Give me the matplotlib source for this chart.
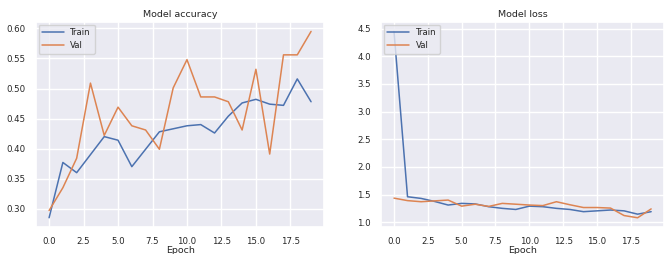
import matplotlib
matplotlib.use('Agg')
import matplotlib.pyplot as plt
import seaborn as sns

epochs = list(range(20))
acc_train = [0.285, 0.377, 0.360, 0.390, 0.420, 0.414, 0.370, 0.399, 0.428, 0.433,
             0.438, 0.440, 0.426, 0.454, 0.476, 0.482, 0.474, 0.472, 0.516, 0.478]
acc_val = [0.297, 0.335, 0.384, 0.509, 0.422, 0.469, 0.438, 0.431, 0.399, 0.501,
           0.548, 0.486, 0.486, 0.478, 0.431, 0.532, 0.391, 0.556, 0.556, 0.595]
loss_train = [4.45, 1.46, 1.43, 1.375, 1.31, 1.34, 1.33, 1.28, 1.25, 1.23,
              1.29, 1.28, 1.25, 1.23, 1.19, 1.205, 1.22, 1.205, 1.145, 1.19]
loss_val = [1.435, 1.39, 1.37, 1.385, 1.40, 1.29, 1.325, 1.285, 1.34, 1.325,
            1.31, 1.30, 1.37, 1.315, 1.265, 1.265, 1.255, 1.12, 1.08, 1.24]

sns.set_theme(style='darkgrid')
plt.rcParams['font.family'] = ['DejaVu Sans']

fig = plt.figure(figsize=(6.64, 2.54), dpi=100)
ax1 = fig.add_axes([0.0542, 0.106, 0.434, 0.807])
ax2 = fig.add_axes([0.574, 0.106, 0.426, 0.807])

for ax, tr, va, title in [(ax1, acc_train, acc_val, 'Model accuracy'),
                          (ax2, loss_train, loss_val, 'Model loss')]:
    ax.plot(epochs, tr, lw=1.1, label='Train')
    ax.plot(epochs, va, lw=1.1, label='Val')
    ax.set_title(title, fontsize=6.8, pad=4)
    ax.set_xlabel('Epoch', fontsize=6.8, labelpad=0)
    ax.tick_params(labelsize=6.2, pad=1.5)
    ax.legend(loc='upper left', fontsize=6.2, borderaxespad=0.3, handlelength=2.5)

ax1.set_yticks([0.30, 0.35, 0.40, 0.45, 0.50, 0.55, 0.60])

fig.savefig('out.png', dpi=100)
